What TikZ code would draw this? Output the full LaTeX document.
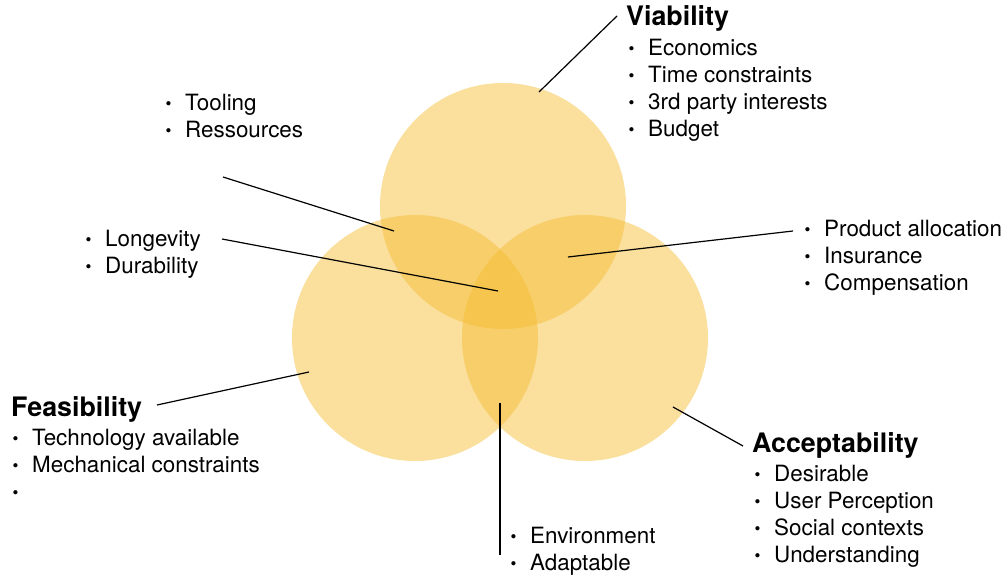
\documentclass[tikz,border=0pt]{standalone}
\usepackage{fontspec}
\setmainfont{TeX Gyre Heros}
\definecolor{venn}{RGB}{244,187,47}
\newcommand{\bl}[1]{\makebox[19.5pt][l]{\raisebox{0.8pt}{\scalebox{0.75}{\textbullet}}}#1}
\tikzset{
  vcircle/.style={circle, fill=venn, fill opacity=0.47, minimum size=246pt, inner sep=0pt, draw=none},
  ttl/.style={anchor=base west, inner sep=0pt, font=\fontsize{26.8}{30}\selectfont\bfseries},
  lst/.style={anchor=base west, inner sep=0pt, font=\fontsize{22.4}{27}\selectfont},
  conn/.style={draw=black, line width=1.2pt}
}
\begin{document}
\begin{tikzpicture}[x=1pt,y=-1pt]
\useasboundingbox (0,0) rectangle (1007,577);
\node[vcircle] (top) at (503,206) {};
\node[vcircle] (left) at (415,338) {};
\node[vcircle] (right) at (585,338) {};

\node[ttl] (via) at (626,26) {Viability};
\node[lst] (vial) at (628.5,55.5) {\begin{tabular}[t]{@{}l@{}}\bl{Economics}\\\bl{Time constraints}\\\bl{3rd party interests}\\\bl{Budget}\end{tabular}};

\node[lst] (tool) at (165.5,110.5) {\begin{tabular}[t]{@{}l@{}}\bl{Tooling}\\\bl{Ressources}\end{tabular}};
\node[lst] (long) at (85.5,246.5) {\begin{tabular}[t]{@{}l@{}}\bl{Longevity}\\\bl{Durability}\end{tabular}};
\node[lst] (prod) at (804.5,236.5) {\begin{tabular}[t]{@{}l@{}}\bl{Product allocation}\\\bl{Insurance}\\\bl{Compensation}\end{tabular}};

\node[ttl] (fea) at (11,416) {Feasibility};
\node[lst] (feal) at (12.5,445.5) {\begin{tabular}[t]{@{}l@{}}\bl{Technology available}\\\bl{Mechanical constraints}\\\bl{}\end{tabular}};

\node[ttl] (acc) at (752,452) {Acceptability};
\node[lst] (accl) at (754.5,481.5) {\begin{tabular}[t]{@{}l@{}}\bl{Desirable}\\\bl{User Perception}\\\bl{Social contexts}\\\bl{Understanding}\end{tabular}};

\node[lst] (env) at (510.5,543.5) {\begin{tabular}[t]{@{}l@{}}\bl{Environment}\\\bl{Adaptable}\end{tabular}};

\coordinate (c1a) at (539,92);  \coordinate (c1b) at (617,16);
\coordinate (c2a) at (223,177); \coordinate (c2b) at (394,231);
\coordinate (c3a) at (222,239); \coordinate (c3b) at (498,291);
\coordinate (c4a) at (568,257); \coordinate (c4b) at (793,231);
\coordinate (c5a) at (157,405); \coordinate (c5b) at (309,372);
\coordinate (c6a) at (673,407); \coordinate (c6b) at (743,446);
\coordinate (c7a) at (500,403); \coordinate (c7b) at (500,555);

\draw[conn] (c1a) -- (c1b);
\draw[conn] (c2a) -- (c2b);
\draw[conn] (c3a) -- (c3b);
\draw[conn] (c4a) -- (c4b);
\draw[conn] (c5a) -- (c5b);
\draw[conn] (c6a) -- (c6b);
\draw[conn] (c7a) -- (c7b);
\end{tikzpicture}
\end{document}
